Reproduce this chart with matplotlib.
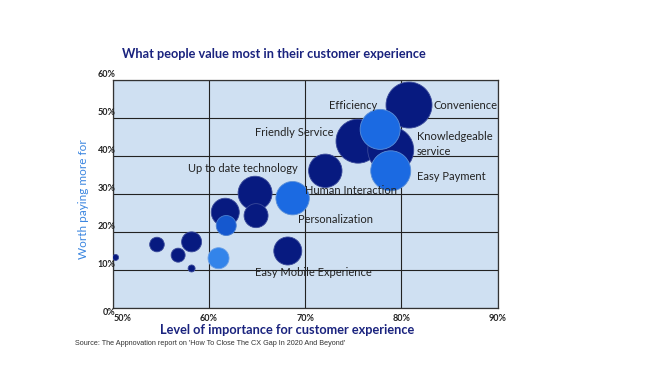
import matplotlib
matplotlib.use("Agg")
import matplotlib.pyplot as plt
from matplotlib.ticker import FuncFormatter

plt.rcParams['font.family'] = ['Lato', 'DejaVu Sans']

# ---- data ----
importance = [50.3, 54.6, 56.8, 58.2, 58.2, 61.0, 61.7, 61.8, 64.8, 64.9, 68.7, 68.2,
              72.1, 75.5, 78.9, 80.8, 77.8, 78.9]
worth_paying = [13.3, 16.7, 13.9, 17.4, 10.4, 13.1, 25.2, 21.7, 30.2, 24.3, 28.9, 15.0,
                36.1, 43.9, 41.6, 53.4, 47.0, 36.1]
weight = [3.0, 7.3, 7.0, 10.0, 3.5, 10.5, 14.0, 10.0, 17.0, 12.0, 16.7, 14.0,
          16.7, 22.0, 23.0, 23.0, 20.0, 20.0]
group = ['n', 'n', 'n', 'n', 'n', 'b3', 'n', 'b2', 'n', 'n', 'b', 'n',
         'n', 'n', 'n', 'n', 'b', 'b']

labels = ["Efficiency", "Convenience", "Friendly Service", "Knowledgeable\nservice",
          "Easy Payment", "Up to date technology", "Human Interaction",
          "Personalization", "Easy Mobile Experience"]
label_x = [75.0, 83.3, 68.9, 81.6, 81.6, 63.5, 74.8, 73.2, 70.9]
label_y = [53.4, 53.4, 46.2, 43.1, 34.7, 36.8, 31.0, 23.4, 9.3]
label_ha = ['center', 'left', 'center', 'left', 'left', 'center', 'center', 'center', 'center']

x_ticks = [50, 60, 70, 80, 90]
y_ticks = [0, 10, 20, 30, 40, 50, 60]

title = "What people value most in their customer experience"
x_title = "Level of importance for customer experience"
y_title = "Worth paying more for"
source = "Source: The Appnovation report on 'How To Close The CX Gap In 2020 And Beyond'"

palette = {'n': '#071a80', 'b': '#1b6ae2', 'b2': '#1558cf', 'b3': '#3384ea'}
edge = {'n': '#3a4a9a', 'b': '#5a8fd8', 'b2': '#4a7fd0', 'b3': '#6aa0e8'}

# ---- figure ----
fig = plt.figure(figsize=(6.5, 3.65), dpi=100)
ax = fig.add_axes([0.1734, 0.1562, 0.5920, 0.6247])
ax.set_facecolor('#cfe0f2')

px_to_pt = 72 / 100
sizes = [(2 * w * px_to_pt) ** 2 for w in weight]
ax.scatter(importance, worth_paying, s=sizes,
           c=[palette[g] for g in group],
           edgecolors=[edge[g] for g in group], linewidths=0.6, zorder=3)

ax.set_xlim(50, 90)
ax.set_ylim(0, 60)
ax.set_xticks(x_ticks)
ax.set_yticks(y_ticks)
ax.grid(True, color='#222222', linewidth=0.8, zorder=1)
ax.set_axisbelow(True)
for sp in ax.spines.values():
    sp.set_color('#333333')
    sp.set_linewidth(0.9)
ax.tick_params(length=0)
ax.set_xticklabels([])
ax.set_yticklabels([])

# tick labels as text
for i, t in enumerate(x_ticks):
    ax.text(t if i else t + 0.05, -1.5, f"{t}%", ha='center' if i else 'left', va='top',
            fontsize=6.5, fontweight='bold', color='#222222', transform=ax.transData)
for t in y_ticks:
    ax.annotate(f"{t}%", xy=(50, t), xytext=(2, 1 if t else -3), textcoords='offset points',
                ha='right', va='bottom' if t else 'center', fontsize=6.5,
                fontweight='bold', color='#222222')

for lab, lx, ly, ha in zip(labels, label_x, label_y, label_ha):
    ax.text(lx, ly, lab, ha=ha, va='center', fontsize=8, color='#222222', zorder=5,
            linespacing=1.45)

fig.text(0.421, 0.852, title, ha='center', va='center', fontsize=9.2,
         fontweight='bold', color='#1a237e')
fig.text(0.441, 0.096, x_title, ha='center', va='center', fontsize=9.2,
         fontweight='bold', color='#1a237e')
fig.text(0.129, 0.455, y_title, ha='center', va='center', rotation=90,
         fontsize=8.5, color='#3b86e0')
fig.text(0.115, 0.060, source, ha='left', va='center', fontsize=5.2, color='#333333',
         family=['Liberation Sans', 'DejaVu Sans'])

fig.savefig('out.png', dpi=100)
